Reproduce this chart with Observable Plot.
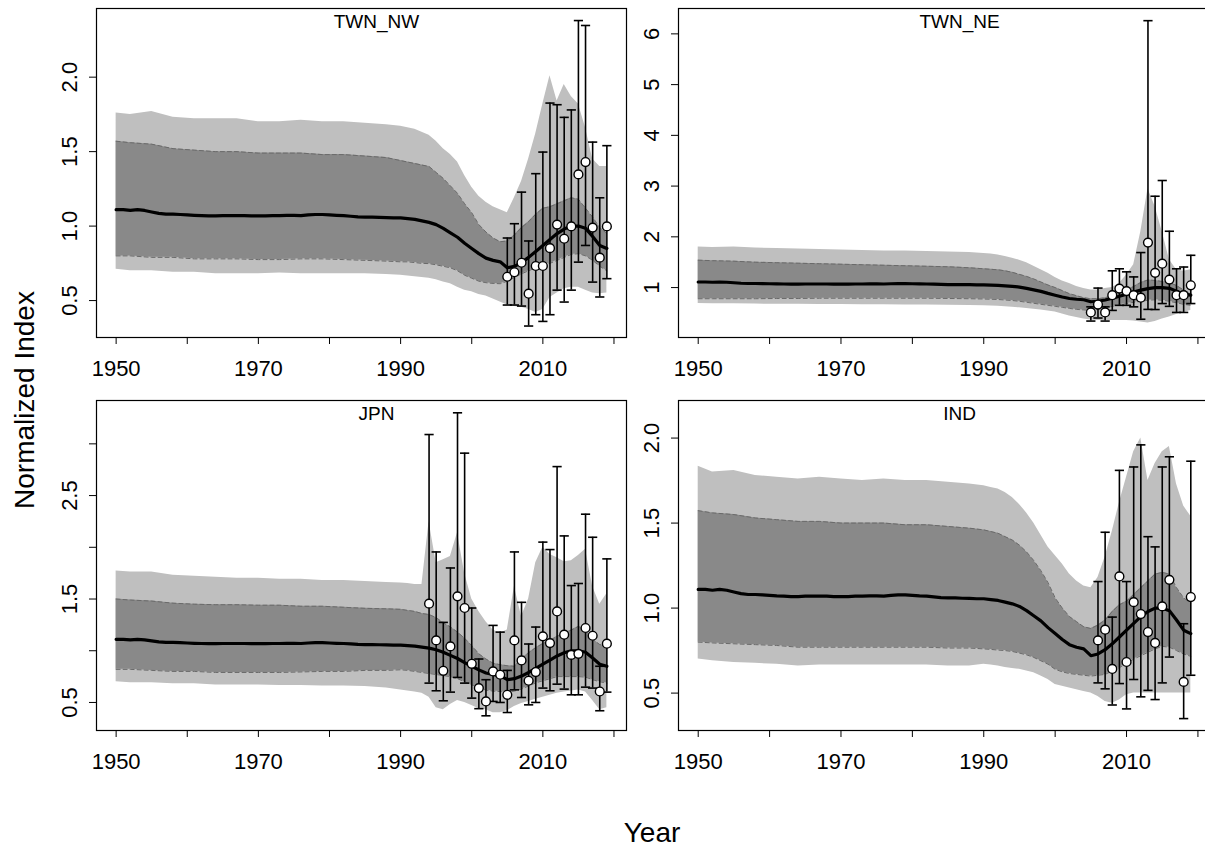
<!DOCTYPE html>
<html><head><meta charset="utf-8">
<script src="https://cdn.jsdelivr.net/npm/d3@7"></script>
<script src="https://cdn.jsdelivr.net/npm/@observablehq/plot@0.6"></script>
<style>
html,body{margin:0;padding:0;background:#fff;overflow:hidden;width:1205px;height:852px;}
#root{position:relative;width:1205px;height:852px;overflow:hidden;font-family:"Liberation Sans",Arial,sans-serif;color:#000;}
.cell{position:absolute;overflow:visible;}
.cell svg{max-width:none !important;}
.ytitle{position:absolute;left:25px;top:400px;transform:translate(-50%,-50%) rotate(-90deg);font-size:28px;white-space:nowrap;}
.xtitle{position:absolute;left:652px;top:833px;transform:translate(-50%,-50%);font-size:28px;white-space:nowrap;}
</style></head>
<body><div id="root"><div class="ytitle">Normalized Index</div><div class="xtitle">Year</div></div>
<script>
// ---------- data ----------
const xTicks = [1950, 1960, 1970, 1980, 1990, 2000, 2010, 2020];
const xTickLabels = [1950, 1970, 1990, 2010];

// shared model trend (median)
const medianYears = d3.range(1950, 2020);
const medianVals = [1.11,1.11,1.105,1.11,1.105,1.095,1.085,1.08,1.08,1.078,
  1.075,1.072,1.07,1.068,1.068,1.07,1.07,1.07,1.07,1.068,
  1.068,1.068,1.07,1.07,1.072,1.072,1.07,1.075,1.078,1.078,
  1.075,1.072,1.07,1.066,1.062,1.06,1.06,1.058,1.057,1.055,
  1.055,1.05,1.045,1.035,1.025,1.01,0.985,0.955,0.925,0.885,
  0.85,0.815,0.785,0.77,0.76,0.72,0.73,0.755,0.79,0.83,
  0.87,0.91,0.95,0.98,1.0,1.0,0.985,0.93,0.87,0.85];

// years at which the credible bands were read
const bandYears = [1950,1952,1955,1958,1961,1964,1967,1970,1973,1976,1979,1982,1985,1988].concat(d3.range(1990, 2020));

// TWN_NW
const nwLightHi = [1.76,1.75,1.77,1.73,1.72,1.72,1.72,1.70,1.70,1.71,1.70,1.70,1.69,1.68,
  1.67,1.66,1.65,1.63,1.61,1.57,1.52,1.48,1.43,1.34,1.26,1.20,1.16,1.13,1.11,1.09,1.19,1.30,1.45,1.62,1.82,2.01,1.84,1.95,1.87,1.82,1.66,1.45,1.40,1.40];
const nwDarkHi = [1.57,1.56,1.55,1.52,1.51,1.50,1.50,1.49,1.49,1.49,1.48,1.48,1.47,1.46,
  1.44,1.43,1.42,1.41,1.40,1.36,1.32,1.27,1.22,1.15,1.09,1.01,0.96,0.92,0.895,0.90,0.94,0.99,1.03,1.08,1.12,1.13,1.15,1.17,1.19,1.18,1.12,1.06,0.99,0.95];
const nwDarkLo = [0.80,0.80,0.79,0.79,0.78,0.78,0.78,0.775,0.775,0.78,0.78,0.775,0.77,0.765,
  0.76,0.76,0.755,0.75,0.748,0.74,0.73,0.72,0.70,0.67,0.65,0.63,0.62,0.615,0.613,0.63,0.655,0.68,0.70,0.72,0.74,0.75,0.77,0.79,0.81,0.815,0.80,0.77,0.73,0.70];
const nwLightLo = [0.71,0.70,0.70,0.69,0.69,0.68,0.68,0.68,0.685,0.68,0.68,0.68,0.68,0.675,
  0.67,0.665,0.66,0.655,0.65,0.64,0.625,0.613,0.59,0.57,0.56,0.54,0.53,0.51,0.49,0.47,0.46,0.455,0.44,0.42,0.44,0.52,0.55,0.58,0.59,0.59,0.57,0.55,0.545,0.55];
const nwObsYears = [2005,2006,2007,2008,2009,2010,2011,2012,2013,2014,2015,2016,2017,2018,2019];
const nwObsVals = [0.66,0.69,0.754,0.546,0.732,0.732,0.852,1.01,0.915,0.998,1.347,1.43,0.99,0.788,0.998];
const nwObsLo = [0.47,0.47,0.463,0.329,0.405,0.36,0.405,0.57,0.49,0.57,0.758,0.87,0.624,0.524,0.647];
const nwObsHi = [0.92,1.016,1.228,0.90,1.352,1.497,1.826,1.815,1.73,1.78,2.38,2.347,1.564,1.19,1.54];

// TWN_NE
const neLightHi = [1.80,1.79,1.80,1.78,1.77,1.76,1.75,1.74,1.73,1.72,1.72,1.71,1.70,1.69,
  1.67,1.66,1.64,1.61,1.58,1.54,1.49,1.42,1.35,1.28,1.20,1.13,1.08,1.02,0.98,0.95,0.95,0.98,1.00,1.08,1.25,1.45,2.10,2.95,2.60,2.10,1.55,1.35,1.32,1.35];
const neDarkHi = [1.54,1.53,1.52,1.50,1.49,1.48,1.47,1.46,1.45,1.44,1.43,1.42,1.41,1.39,
  1.37,1.36,1.35,1.33,1.30,1.26,1.22,1.17,1.11,1.05,1.00,0.94,0.88,0.84,0.80,0.78,0.78,0.80,0.84,0.90,0.95,1.02,1.10,1.15,1.14,1.12,1.10,1.04,0.95,0.88];
const neDarkLo = [0.78,0.78,0.78,0.78,0.785,0.785,0.79,0.79,0.79,0.79,0.79,0.79,0.785,0.78,
  0.775,0.77,0.765,0.755,0.745,0.73,0.71,0.69,0.67,0.65,0.63,0.61,0.59,0.57,0.56,0.55,0.57,0.60,0.63,0.66,0.685,0.71,0.73,0.75,0.76,0.75,0.73,0.70,0.67,0.65];
const neLightLo = [0.685,0.68,0.68,0.675,0.67,0.67,0.665,0.665,0.66,0.66,0.655,0.655,0.65,0.645,
  0.64,0.635,0.63,0.62,0.61,0.60,0.59,0.575,0.56,0.54,0.52,0.48,0.44,0.41,0.38,0.36,0.35,0.35,0.35,0.35,0.35,0.34,0.32,0.30,0.33,0.38,0.42,0.47,0.51,0.55];
const neObsYears = [2005,2006,2007,2008,2009,2010,2011,2012,2013,2014,2015,2016,2017,2018,2019];
const neObsVals = [0.51,0.665,0.51,0.85,0.98,0.93,0.85,0.80,1.886,1.29,1.47,1.157,0.85,0.85,1.045];
const neObsLo = [0.34,0.40,0.34,0.55,0.65,0.65,0.62,0.376,0.57,0.567,0.685,0.63,0.51,0.51,0.685];
const neObsHi = [0.62,0.99,0.62,1.33,1.37,1.31,1.21,1.69,6.26,2.80,3.11,2.11,1.37,1.405,1.636];

// JPN
const jpLightHi = [1.77,1.76,1.76,1.73,1.72,1.71,1.70,1.70,1.69,1.69,1.68,1.68,1.67,1.66,
  1.655,1.65,1.64,1.64,2.25,1.85,1.88,1.91,2.14,1.75,1.50,1.38,1.28,1.20,1.17,1.20,1.62,1.33,1.50,1.85,2.00,1.93,1.90,1.86,1.87,1.92,1.98,1.62,1.45,1.55];
const jpDarkHi = [1.50,1.49,1.48,1.46,1.45,1.445,1.445,1.44,1.44,1.43,1.43,1.42,1.41,1.405,
  1.40,1.39,1.38,1.36,1.35,1.32,1.27,1.23,1.18,1.12,1.05,0.97,0.92,0.88,0.865,0.855,0.85,0.92,0.98,1.03,1.07,1.10,1.14,1.17,1.20,1.235,1.20,1.11,1.06,1.04];
const jpDarkLo = [0.82,0.82,0.81,0.80,0.80,0.79,0.79,0.79,0.79,0.795,0.80,0.80,0.81,0.81,
  0.816,0.81,0.80,0.79,0.78,0.77,0.76,0.75,0.73,0.70,0.67,0.64,0.62,0.61,0.605,0.60,0.61,0.63,0.66,0.69,0.71,0.73,0.75,0.75,0.75,0.75,0.745,0.72,0.70,0.687];
const jpLightLo = [0.70,0.69,0.69,0.68,0.68,0.67,0.67,0.67,0.665,0.665,0.66,0.66,0.655,0.64,
  0.62,0.61,0.60,0.59,0.55,0.45,0.43,0.48,0.52,0.50,0.47,0.44,0.43,0.40,0.40,0.42,0.46,0.49,0.51,0.53,0.55,0.57,0.59,0.60,0.61,0.62,0.60,0.52,0.43,0.45];
const jpObsYears = d3.range(1994, 2020);
const jpObsVals = [1.455,1.10,0.806,1.042,1.526,1.413,0.874,0.639,0.51,0.80,0.768,0.574,1.10,0.906,0.71,0.794,1.139,1.074,1.38,1.155,0.96,0.97,1.22,1.145,0.606,1.068];
const jpObsLo = [0.687,0.613,0.516,0.60,0.742,0.687,0.542,0.44,0.371,0.51,0.50,0.403,0.622,0.548,0.477,0.50,0.639,0.613,0.677,0.629,0.574,0.574,0.648,0.639,0.42,0.60];
const jpObsHi = [3.09,1.955,1.274,1.80,3.30,2.91,1.413,0.92,0.72,1.245,1.18,0.81,1.955,1.468,1.065,1.229,2.05,1.978,2.78,2.11,1.63,1.65,2.32,2.097,0.85,1.888];

// IND
const inLightHi = [1.835,1.80,1.81,1.78,1.77,1.76,1.77,1.76,1.75,1.76,1.75,1.75,1.74,1.73,
  1.72,1.71,1.70,1.68,1.65,1.61,1.56,1.50,1.43,1.36,1.31,1.26,1.20,1.16,1.13,1.12,1.18,1.30,1.45,1.62,1.77,1.92,2.00,1.75,1.85,1.92,1.95,1.73,1.60,1.54];
const inDarkHi = [1.573,1.56,1.55,1.53,1.52,1.51,1.51,1.50,1.50,1.50,1.49,1.49,1.48,1.47,
  1.46,1.45,1.44,1.42,1.40,1.37,1.33,1.28,1.22,1.15,1.06,1.00,0.95,0.92,0.89,0.88,0.90,0.93,0.98,1.02,1.04,1.08,1.12,1.16,1.20,1.21,1.20,1.12,1.06,1.03];
const inDarkLo = [0.80,0.795,0.79,0.785,0.78,0.77,0.77,0.77,0.77,0.77,0.77,0.77,0.765,0.765,
  0.76,0.757,0.753,0.75,0.745,0.735,0.725,0.71,0.69,0.67,0.64,0.625,0.615,0.61,0.605,0.60,0.605,0.61,0.63,0.65,0.675,0.70,0.72,0.74,0.76,0.775,0.77,0.75,0.73,0.716];
const inLightLo = [0.70,0.69,0.68,0.675,0.67,0.66,0.665,0.665,0.665,0.665,0.665,0.665,0.66,0.66,
  0.67,0.665,0.66,0.65,0.645,0.64,0.63,0.62,0.60,0.58,0.55,0.54,0.53,0.52,0.51,0.50,0.48,0.45,0.44,0.46,0.49,0.50,0.50,0.50,0.50,0.50,0.50,0.50,0.50,0.50];
const inObsYears = [2006,2007,2008,2009,2010,2011,2012,2013,2014,2015,2016,2018,2019];
const inObsVals = [0.81,0.873,0.642,1.186,0.683,1.035,0.965,0.859,0.795,1.01,1.166,0.566,1.065];
const inObsLo = [0.56,0.525,0.43,0.556,0.407,0.58,0.478,0.516,0.462,0.56,0.712,0.35,0.605];
const inObsHi = [1.156,1.446,0.947,1.81,1.156,1.83,1.96,1.42,1.36,1.83,1.89,0.908,1.864];

// ---------- panels ----------
const panels = [
  {name: "TWN_NW", yDomain: [0.252, 2.461], yTicks: [0.5, 1, 1.5, 2], yLabels: [0.5, 1, 1.5, 2], fmt: d3.format(".1f"),
   lh: nwLightHi, dh: nwDarkHi, dl: nwDarkLo, ll: nwLightLo, oy: nwObsYears, ov: nwObsVals, olo: nwObsLo, ohi: nwObsHi,
   box: {left: 0, top: 0, w: 640, h: 390, ml: 96, mr: 14, mt: 8, mb: 53}},
  {name: "TWN_NE", yDomain: [0.016, 6.50], yTicks: [1, 2, 3, 4, 5, 6], yLabels: [1, 2, 3, 4, 5, 6], fmt: d3.format("d"),
   lh: neLightHi, dh: neDarkHi, dl: neDarkLo, ll: neLightLo, oy: neObsYears, ov: neObsVals, olo: neObsLo, ohi: neObsHi,
   box: {left: 640, top: 0, w: 600, h: 390, ml: 38, mr: 30, mt: 8, mb: 53}},
  {name: "JPN", yDomain: [0.229, 3.419], yTicks: [0.5, 1, 1.5, 2, 2.5, 3], yLabels: [0.5, 1.5, 2.5], fmt: d3.format(".1f"),
   lh: jpLightHi, dh: jpDarkHi, dl: jpDarkLo, ll: jpLightLo, oy: jpObsYears, ov: jpObsVals, olo: jpObsLo, ohi: jpObsHi,
   box: {left: 0, top: 390, w: 640, h: 400, ml: 96, mr: 14, mt: 10, mb: 60}},
  {name: "IND", yDomain: [0.28, 2.221], yTicks: [0.5, 1, 1.5, 2], yLabels: [0.5, 1, 1.5, 2], fmt: d3.format(".1f"),
   lh: inLightHi, dh: inDarkHi, dl: inDarkLo, ll: inLightLo, oy: inObsYears, ov: inObsVals, olo: inObsLo, ohi: inObsHi,
   box: {left: 640, top: 390, w: 600, h: 400, ml: 38, mr: 30, mt: 10, mb: 60}}
];

const FONT = '"Liberation Sans", Arial, sans-serif';
const LIGHT = "#bfbfbf", DARK = "#898989", DASH = "#6a6a6a";
const cap = {draw(ctx, size) { const h = Math.sqrt(size / Math.PI); ctx.moveTo(-h, 0); ctx.lineTo(h, 0); }};

const root = document.getElementById("root");
for (const p of panels) {
  const band = bandYears.map((year, i) => ({year, lh: p.lh[i], dh: p.dh[i], dl: p.dl[i], ll: p.ll[i]}));
  const med = medianYears.map((year, i) => ({year, v: medianVals[i]}));
  const obs = p.oy.map((year, i) => ({year, v: p.ov[i], lo: p.olo[i], hi: p.ohi[i]}));
  const b = p.box;
  const chart = Plot.plot({
    width: b.w, height: b.h,
    marginLeft: b.ml, marginRight: b.mr, marginTop: b.mt, marginBottom: b.mb,
    x: {domain: [1947.24, 2021.76]},
    y: {domain: p.yDomain},
    style: {fontFamily: FONT, fontSize: "22px", color: "black", background: "transparent", overflow: "visible", maxWidth: "none", width: b.w + "px", height: b.h + "px"},
    marks: [
      Plot.areaY(band, {x: "year", y1: "ll", y2: "lh", fill: LIGHT}),
      Plot.areaY(band, {x: "year", y1: "dl", y2: "dh", fill: DARK}),
      Plot.line(band, {x: "year", y: "dh", stroke: DASH, strokeWidth: 1, strokeDasharray: "4,3"}),
      Plot.line(band, {x: "year", y: "dl", stroke: DASH, strokeWidth: 1, strokeDasharray: "4,3"}),
      Plot.line(med, {x: "year", y: "v", stroke: "black", strokeWidth: 3.2}),
      Plot.ruleX(obs, {x: "year", y1: "lo", y2: "hi", stroke: "black", strokeWidth: 1.6}),
      Plot.dot(obs, {x: "year", y: "hi", symbol: cap, r: 4.6, stroke: "black", strokeWidth: 1.6}),
      Plot.dot(obs, {x: "year", y: "lo", symbol: cap, r: 4.6, stroke: "black", strokeWidth: 1.6}),
      Plot.dot(obs, {x: "year", y: "v", r: 4.4, fill: "white", stroke: "black", strokeWidth: 1.4}),
      Plot.frame({stroke: "black", strokeWidth: 1.2}),
      Plot.axisX({ticks: xTicks, tickFormat: d => xTickLabels.includes(d) ? String(d) : "", tickSize: 7, tickPadding: 16, label: null, fontSize: 22}),
      Plot.axisY({ticks: p.yTicks, tickFormat: () => "", tickSize: 7, label: null}),
      Plot.text(p.yLabels, {y: d => d, text: d => p.fmt(d), frameAnchor: "left", dx: -20, rotate: -90, lineAnchor: "bottom", textAnchor: "middle", fontSize: 22}),
      Plot.text([p.name], {text: d => d, frameAnchor: "top", dx: 15, dy: 6, lineAnchor: "top", fontSize: 19})
    ]
  });
  const cell = document.createElement("div");
  cell.className = "cell";
  cell.style.left = b.left + "px";
  cell.style.top = b.top + "px";
  cell.style.width = b.w + "px";
  cell.style.height = b.h + "px";
  cell.appendChild(chart);
  root.appendChild(cell);
}
</script></body></html>
